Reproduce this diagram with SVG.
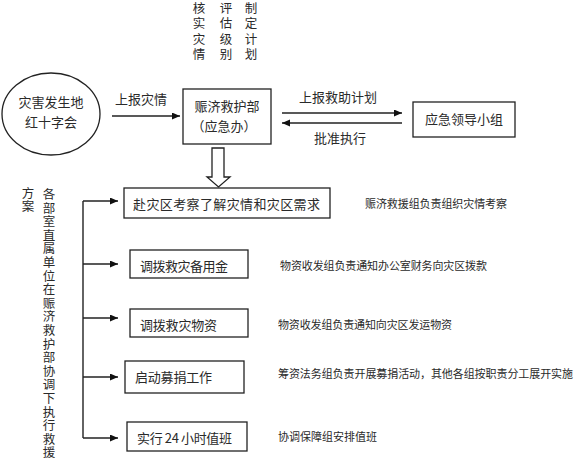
<svg xmlns="http://www.w3.org/2000/svg" width="574" height="462" viewBox="0 0 574 462">
<style>
text{font-family:"Noto Sans CJK SC","Noto Sans",sans-serif;fill:#2a2a2a}
.b{font-size:13px}
.t{font-size:12.5px;text-anchor:middle}
.a{font-size:11px}
.v{font-size:12.5px;text-anchor:middle}
.m{text-anchor:middle}
.box{fill:#fff;stroke:#222;stroke-width:1.3}
.ln{fill:none;stroke:#222;stroke-width:1.4}
</style>
<defs>
<marker id="ah" markerUnits="userSpaceOnUse" markerWidth="9" markerHeight="8" refX="8" refY="3.5" orient="auto">
<path d="M0,0 L8,3.5 L0,7 z" fill="#111"/>
</marker>
</defs>
<rect width="574" height="462" fill="#fff"/>

<g id="top-notes">
<text class="t"><tspan x="199" y="13">核</tspan><tspan x="199" y="28.3">实</tspan><tspan x="199" y="43.6">灾</tspan><tspan x="199" y="59">情</tspan></text>
<text class="t"><tspan x="226" y="13">评</tspan><tspan x="226" y="28.3">估</tspan><tspan x="226" y="43.6">级</tspan><tspan x="226" y="59">别</tspan></text>
<text class="t"><tspan x="251" y="13">制</tspan><tspan x="251" y="28.3">定</tspan><tspan x="251" y="43.6">计</tspan><tspan x="251" y="59">划</tspan></text>
</g>

<g id="node-origin">
<ellipse cx="51" cy="114" rx="49" ry="41" class="box"/>
<text class="b m" x="51" y="107">灾害发生地</text>
<text class="b m" x="51" y="127">红十字会</text>
</g>

<g id="node-hq">
<rect x="183" y="89" width="88" height="55" class="box"/>
<text class="b m" x="227" y="111">赈济救护部</text>
<text class="b m" x="224" y="131">（应急办）</text>
</g>

<g id="node-leader">
<rect x="413" y="102" width="102" height="35" class="box"/>
<text class="b m" x="464" y="124">应急领导小组</text>
</g>

<g id="node-step1">
<rect x="124" y="188" width="206" height="30" class="box"/>
<text class="b" x="133" y="209" textLength="187" lengthAdjust="spacing">赴灾区考察了解灾情和灾区需求</text>
</g>
<g id="node-step2">
<rect x="130" y="250" width="118" height="28" class="box"/>
<text class="b" x="140" y="271" textLength="88" lengthAdjust="spacing">调拨救灾备用金</text>
</g>
<g id="node-step3">
<rect x="130" y="309" width="118" height="28" class="box"/>
<text class="b" x="140" y="330" textLength="77" lengthAdjust="spacing">调拨救灾物资</text>
</g>
<g id="node-step4">
<rect x="125" y="361" width="119" height="32" class="box"/>
<text class="b" x="135" y="382" textLength="77" lengthAdjust="spacing">启动募捐工作</text>
</g>
<g id="node-step5">
<rect x="127" y="422" width="120" height="29" class="box"/>
<text class="b" x="137" y="443" textLength="95" lengthAdjust="spacing">实行 24 小时值班</text>
</g>

<g id="notes">
<text class="a" x="365" y="208" textLength="142" lengthAdjust="spacing">赈济救援组负责组织灾情考察</text>
<text class="a" x="280" y="270" textLength="207" lengthAdjust="spacing">物资收发组负责通知办公室财务向灾区拨款</text>
<text class="a" x="278" y="329" textLength="174" lengthAdjust="spacing">物资收发组负责通知向灾区发运物资</text>
<text class="a" x="278" y="378" textLength="295" lengthAdjust="spacing">筹资法务组负责开展募捐活动，其他各组按职责分工展开实施</text>
<text class="a" x="278" y="441" textLength="99" lengthAdjust="spacing">协调保障组安排值班</text>
</g>

<g id="side-note">
<text class="v"><tspan x="49" y="199">各</tspan><tspan x="49" y="212.6">部</tspan><tspan x="49" y="226.2">室</tspan><tspan x="49" y="239.8">直</tspan><tspan x="49" y="253.4">属</tspan><tspan x="49" y="267">单</tspan><tspan x="49" y="280.6">位</tspan><tspan x="49" y="294.2">在</tspan><tspan x="49" y="307.8">赈</tspan><tspan x="49" y="321.4">济</tspan><tspan x="49" y="335">救</tspan><tspan x="49" y="348.6">护</tspan><tspan x="49" y="362.2">部</tspan><tspan x="49" y="375.8">协</tspan><tspan x="49" y="389.4">调</tspan><tspan x="49" y="403">下</tspan><tspan x="49" y="416.6">执</tspan><tspan x="49" y="430.2">行</tspan><tspan x="49" y="443.8">救</tspan><tspan x="49" y="457.4">援</tspan></text>
<text class="v"><tspan x="28" y="198">方</tspan><tspan x="28" y="210.5">案</tspan></text>
</g>

<g id="labels">
<text class="b m" x="141" y="104">上报灾情</text>
<text class="b m" x="338" y="102">上报救助计划</text>
<text class="b m" x="340" y="143">批准执行</text>
</g>

<g id="connectors">
<line x1="112" y1="116" x2="180" y2="116" class="ln" marker-end="url(#ah)"/>
<line x1="282" y1="113" x2="402" y2="113" class="ln" marker-end="url(#ah)"/>
<line x1="402" y1="123" x2="282" y2="123" class="ln" marker-end="url(#ah)"/>
<polygon points="212,148 224,148 224,177 230,177 218.5,187 207,177 212,177" fill="#fff" stroke="#222" stroke-width="1.3"/>
<line x1="83" y1="201" x2="83" y2="438" class="ln"/>
<line x1="83" y1="201" x2="118" y2="201" class="ln" marker-end="url(#ah)"/>
<line x1="83" y1="264" x2="118" y2="264" class="ln" marker-end="url(#ah)"/>
<line x1="83" y1="318" x2="118" y2="318" class="ln" marker-end="url(#ah)"/>
<line x1="83" y1="377" x2="118" y2="377" class="ln" marker-end="url(#ah)"/>
<line x1="83" y1="438" x2="118" y2="438" class="ln" marker-end="url(#ah)"/>
</g>
</svg>
